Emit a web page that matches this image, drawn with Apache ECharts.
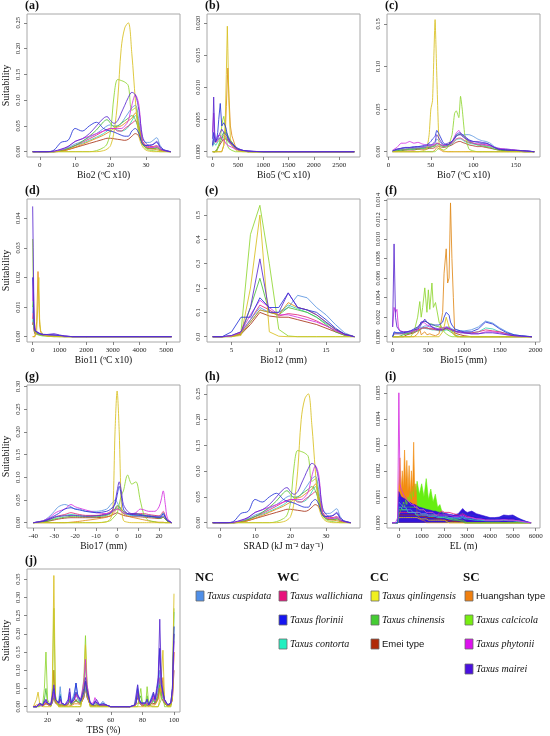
<!DOCTYPE html>
<html>
<head>
<meta charset="utf-8">
<script src="https://cdn.jsdelivr.net/npm/echarts/dist/echarts.min.js"></script>
<style>html,body{margin:0;padding:0;background:#fff}#c{width:550px;height:736px}</style>
</head>
<body>
<div id="c"></div>
<script>
// ---------- species ----------
const speciesKeys = ['cusp','wall','flor','cont','qinl','chin','emei','huang','calc','phyt','mair'];
const speciesNames = ['Taxus cuspidata','Taxus wallichiana','Taxus florinii','Taxus contorta','Taxus qinlingensis','Taxus chinensis','Emei type','Huangshan type','Taxus calcicola','Taxus phytonii','Taxus mairei'];
const swatchColors = ['#4f8fe8','#e8127c','#1515f0','#22f0c0','#f0f020','#44cc33','#b02a08','#f08010','#77ee11','#dd11ee','#4a10e0'];
const lineColors = ['#5b95e0','#e0287a','#2434d8','#37d6b0','#d8c020','#4cbf3a','#a83218','#e08a1a','#8fd631','#d530e0','#5a2ad0'];

// ---------- (a) Bio2 / (h) SRAD ----------
const a_x = [-2,0,2,4,6,8,10,12,14,16,18,19,20,21,22,23,24,25,26,27,28,29,30,31,32,33,34,35,37];
const a_qinl = [0,0,0,0,0,0,0,0,0,0,0.002,0.005,0.012,0.04,0.1,0.2,0.24,0.25,0.19,0.1,0.03,0.01,0.003,0.001,0,0,0,0,0];
const a_calc = [0,0,0,0,0,0,0,0,0,0.002,0.008,0.015,0.04,0.11,0.14,0.138,0.135,0.128,0.08,0.085,0.045,0.015,0.006,0.003,0.002,0.001,0,0,0];
const a_chin = [0,0,0,0,0.002,0.006,0.012,0.02,0.03,0.042,0.058,0.062,0.055,0.048,0.05,0.055,0.06,0.065,0.07,0.062,0.04,0.015,0.008,0.006,0.006,0.006,0.003,0.001,0];
const a_flor = [0,0,0,0.003,0.018,0.022,0.045,0.04,0.05,0.057,0.045,0.042,0.04,0.038,0.035,0.032,0.03,0.03,0.04,0.045,0.035,0.015,0.012,0.012,0.014,0.018,0.008,0.003,0];
const a_mair = [0,0,0,0.001,0.005,0.01,0.02,0.025,0.035,0.05,0.065,0.068,0.06,0.055,0.06,0.075,0.09,0.105,0.115,0.11,0.08,0.03,0.016,0.013,0.014,0.02,0.01,0.004,0];
const a_phyt = [0,0,0,0.001,0.004,0.01,0.02,0.025,0.03,0.035,0.04,0.042,0.045,0.045,0.045,0.045,0.05,0.06,0.09,0.11,0.09,0.02,0.01,0.008,0.008,0.01,0.005,0.002,0];
const a_cusp = [0,0,0,0,0.003,0.008,0.015,0.02,0.028,0.035,0.045,0.05,0.052,0.05,0.05,0.055,0.065,0.075,0.085,0.09,0.06,0.025,0.018,0.018,0.022,0.027,0.012,0.004,0];
const a_wall = [0,0,0,0,0.002,0.006,0.012,0.018,0.025,0.032,0.04,0.043,0.045,0.045,0.04,0.04,0.045,0.05,0.055,0.06,0.045,0.02,0.012,0.01,0.01,0.012,0.006,0.002,0];
const a_cont = [0,0,0,0,0.002,0.006,0.012,0.016,0.022,0.028,0.035,0.04,0.045,0.045,0.042,0.04,0.042,0.048,0.06,0.07,0.05,0.02,0.01,0.008,0.008,0.01,0.005,0.002,0];
const a_emei = [0,0,0,0,0.001,0.004,0.008,0.012,0.016,0.02,0.024,0.026,0.026,0.025,0.024,0.023,0.022,0.024,0.03,0.035,0.03,0.015,0.008,0.006,0.006,0.008,0.004,0.001,0];
const a_huang = [0,0,0,0,0.001,0.004,0.009,0.014,0.02,0.026,0.032,0.036,0.04,0.045,0.048,0.05,0.055,0.06,0.065,0.075,0.05,0.02,0.01,0.006,0.005,0.004,0.002,0.001,0];

// ---------- (b) Bio5 ----------
const b_x = [0,20,40,60,80,100,120,150,180,200,220,250,270,290,300,320,350,380,400,450,500,600,700,800,1000,1500,2000,2500,2800];
const b_qinl = [0,0,0,0,0,0,0,0,0,0,0.001,0.005,0.012,0.0195,0.016,0.008,0.002,0.001,0.0008,0.0003,0.0001,0,0,0,0,0,0,0,0];
const b_huang = [0,0,0,0,0,0,0,0,0,0.0003,0.001,0.003,0.007,0.011,0.013,0.009,0.004,0.0025,0.002,0.0008,0.0004,0.0001,0,0,0,0,0,0,0];
const b_mair = [0.002,0.0085,0.003,0.0018,0.0015,0.002,0.0025,0.003,0.0035,0.0038,0.003,0.0028,0.0026,0.0025,0.0025,0.002,0.0015,0.0012,0.0012,0.0008,0.0005,0.0002,0.0001,0.00005,0,0,0,0,0];
const b_flor = [0.001,0.003,0.002,0.0015,0.002,0.003,0.005,0.0075,0.004,0.004,0.0045,0.004,0.0035,0.0025,0.002,0.0018,0.0015,0.0012,0.001,0.0007,0.0004,0.0002,0.0001,0.00005,0,0,0,0,0];
const b_calc = [0,0,0,0,0,0.0005,0.001,0.002,0.004,0.005,0.0055,0.004,0.002,0.001,0.0008,0.0005,0.0003,0.0002,0.0001,0,0,0,0,0,0,0,0,0,0];
const b_phyt = [0.003,0.006,0.002,0.0015,0.002,0.0025,0.0025,0.0025,0.002,0.002,0.0018,0.0015,0.0012,0.001,0.001,0.0009,0.0008,0.0007,0.0006,0.0004,0.0003,0.0002,0.0001,0.00005,0.00002,0,0,0,0];
const b_cusp = [0.001,0.002,0.0015,0.0015,0.0018,0.002,0.002,0.0022,0.0025,0.0028,0.003,0.0032,0.003,0.0028,0.0025,0.0022,0.0018,0.0015,0.0012,0.0008,0.0005,0.0002,0.0001,0.00005,0,0,0,0,0];
const b_wall = [0.001,0.002,0.0015,0.0012,0.0015,0.0018,0.002,0.002,0.0022,0.0025,0.0025,0.0024,0.0022,0.002,0.0018,0.0016,0.0013,0.001,0.0008,0.0005,0.0003,0.0001,0.00005,0,0,0,0,0,0];
const b_cont = [0.0008,0.0015,0.0012,0.001,0.0012,0.0015,0.0018,0.002,0.002,0.0022,0.0022,0.002,0.0019,0.0018,0.0016,0.0014,0.0012,0.001,0.0008,0.0005,0.0003,0.0001,0.00005,0,0,0,0,0,0];
const b_chin = [0,0,0,0,0.0003,0.0006,0.001,0.0015,0.002,0.0025,0.003,0.0032,0.003,0.0028,0.0025,0.002,0.0018,0.0015,0.0012,0.0006,0.0003,0.0001,0,0,0,0,0,0,0];
const b_emei = [0,0,0,0,0.0002,0.0004,0.0008,0.0012,0.0015,0.0018,0.002,0.002,0.0019,0.0018,0.0017,0.0015,0.0014,0.0013,0.0012,0.0007,0.0003,0.0001,0,0,0,0,0,0,0];

// ---------- (c) Bio7 ----------
const c_x = [5,10,15,20,25,30,35,40,45,48,50,52,55,57,60,65,70,75,78,80,83,85,87,90,95,100,105,110,115,120,125,130,140,150,160,172];
const c_qinl = [0,0,0,0,0,0,0,0.001,0.003,0.02,0.05,0.06,0.155,0.09,0.005,0.001,0,0,0,0,0,0,0,0,0,0,0,0,0,0,0,0,0,0,0,0];
const c_calc = [0,0,0,0,0,0,0,0,0,0,0,0,0,0.002,0.004,0.002,0.005,0.02,0.045,0.048,0.04,0.065,0.05,0.02,0.003,0.001,0,0,0,0,0,0,0,0,0,0];
const c_huang = [0,0,0,0,0,0,0,0,0,0,0,0,0.002,0.005,0.003,0,0,0,0,0,0,0,0,0,0,0,0,0,0,0,0,0,0,0,0,0];
const c_mair = [0.001,0.003,0.004,0.005,0.005,0.005,0.006,0.006,0.007,0.008,0.008,0.009,0.012,0.02,0.015,0.008,0.01,0.012,0.015,0.018,0.02,0.02,0.018,0.016,0.013,0.012,0.012,0.011,0.01,0.008,0.005,0.003,0.002,0.0015,0.001,0];
const c_flor = [0.001,0.003,0.004,0.005,0.005,0.006,0.006,0.007,0.008,0.01,0.012,0.015,0.018,0.025,0.02,0.01,0.008,0.012,0.016,0.02,0.022,0.022,0.02,0.018,0.014,0.012,0.011,0.01,0.01,0.008,0.005,0.003,0.002,0.0015,0.001,0];
const c_phyt = [0.002,0.005,0.01,0.01,0.012,0.01,0.011,0.009,0.008,0.008,0.008,0.008,0.009,0.01,0.009,0.007,0.008,0.012,0.018,0.022,0.025,0.022,0.02,0.017,0.013,0.01,0.009,0.008,0.008,0.007,0.005,0.004,0.003,0.002,0.001,0];
const c_cusp = [0.001,0.002,0.003,0.004,0.004,0.004,0.005,0.005,0.006,0.007,0.007,0.008,0.01,0.015,0.012,0.008,0.008,0.012,0.016,0.018,0.02,0.02,0.02,0.02,0.02,0.018,0.015,0.013,0.012,0.01,0.006,0.004,0.003,0.002,0.001,0];
const c_wall = [0.001,0.002,0.003,0.003,0.004,0.004,0.004,0.005,0.005,0.006,0.006,0.007,0.008,0.01,0.009,0.007,0.008,0.01,0.013,0.015,0.016,0.016,0.015,0.013,0.011,0.01,0.009,0.009,0.008,0.007,0.005,0.003,0.002,0.0015,0.001,0];
const c_cont = [0.001,0.002,0.002,0.003,0.003,0.003,0.004,0.004,0.005,0.005,0.006,0.006,0.007,0.009,0.008,0.006,0.007,0.009,0.012,0.014,0.015,0.015,0.014,0.012,0.01,0.009,0.008,0.008,0.007,0.006,0.004,0.003,0.002,0.001,0.001,0];
const c_chin = [0,0.001,0.002,0.002,0.003,0.003,0.003,0.004,0.004,0.005,0.005,0.006,0.007,0.01,0.009,0.006,0.008,0.012,0.016,0.019,0.02,0.021,0.019,0.016,0.012,0.01,0.008,0.007,0.006,0.005,0.003,0.002,0.001,0.001,0,0];
const c_emei = [0,0.001,0.001,0.002,0.002,0.002,0.003,0.003,0.003,0.004,0.004,0.004,0.005,0.007,0.006,0.005,0.006,0.008,0.01,0.011,0.012,0.012,0.011,0.01,0.008,0.007,0.006,0.006,0.005,0.004,0.003,0.002,0.001,0.001,0,0];

// ---------- (d) Bio11 ----------
const d_x = [0,20,50,80,100,150,200,230,260,300,400,600,800,1000,1200,1500,2000,3000,4000,5200];
const d_mair = [0.044,0.03,0.006,0.003,0.002,0.0015,0.0015,0.0012,0.001,0.0008,0.0006,0.0008,0.001,0.0006,0.0002,0,0,0,0,0];
const d_calc = [0.033,0.018,0.004,0.0015,0.001,0.0008,0.0006,0.0005,0.0004,0.0003,0.0002,0.0001,0,0,0,0,0,0,0,0];
const d_huang = [0,0,0,0,0.001,0.005,0.022,0.012,0.004,0.0015,0.0005,0.0002,0.0001,0,0,0,0,0,0,0];
const d_qinl = [0,0,0,0,0,0.002,0.012,0.02,0.006,0.002,0.0005,0.0001,0,0,0,0,0,0,0,0];
const d_phyt = [0.012,0.02,0.008,0.003,0.002,0.0015,0.0012,0.001,0.001,0.0009,0.0007,0.0006,0.0006,0.0004,0.0002,0,0,0,0,0];
const d_flor = [0.02,0.015,0.005,0.002,0.0018,0.0015,0.0013,0.0012,0.0011,0.001,0.0008,0.0007,0.0006,0.0004,0.0002,0,0,0,0,0];
const d_cusp = [0.008,0.01,0.004,0.002,0.0015,0.0012,0.001,0.001,0.0009,0.0008,0.0007,0.0006,0.0005,0.0003,0.0001,0,0,0,0,0];
const d_wall = [0.006,0.008,0.003,0.0015,0.0012,0.001,0.0009,0.0008,0.0008,0.0007,0.0006,0.0005,0.0004,0.0002,0.0001,0,0,0,0,0];
const d_cont = [0.005,0.006,0.003,0.0015,0.0012,0.001,0.0009,0.0008,0.0007,0.0006,0.0005,0.0004,0.0003,0.0002,0.0001,0,0,0,0,0];
const d_chin = [0.01,0.012,0.004,0.002,0.0015,0.0012,0.001,0.0009,0.0008,0.0007,0.0005,0.0003,0.0002,0.0001,0,0,0,0,0,0];
const d_emei = [0.004,0.005,0.002,0.001,0.001,0.0009,0.0008,0.0008,0.0007,0.0006,0.0005,0.0003,0.0002,0.0001,0,0,0,0,0,0];

// ---------- (e) Bio12 ----------
const e_x = [3,4,5,6,7,8,9,10,11,12,13,14,15,16,17,18];
const e_calc = [0,0,0.002,0.02,0.42,0.54,0.3,0.03,0.003,0,0,0,0,0,0,0];
const e_qinl = [0,0,0,0.005,0.2,0.5,0.02,0.002,0,0,0,0,0,0,0,0];
const e_chin = [0,0,0,0.01,0.12,0.24,0.1,0.09,0.12,0.11,0.1,0.08,0.05,0.02,0.005,0];
const e_mair = [0,0,0.005,0.02,0.12,0.32,0.1,0.1,0.18,0.12,0.11,0.09,0.06,0.03,0.01,0];
const e_flor = [0,0,0.02,0.08,0.08,0.16,0.12,0.12,0.18,0.12,0.11,0.1,0.07,0.035,0.01,0];
const e_cusp = [0,0,0.005,0.02,0.07,0.12,0.1,0.1,0.12,0.17,0.16,0.12,0.09,0.05,0.015,0];
const e_phyt = [0,0,0.003,0.02,0.09,0.15,0.12,0.09,0.09,0.08,0.07,0.06,0.045,0.025,0.008,0];
const e_wall = [0,0,0.003,0.015,0.07,0.13,0.11,0.085,0.095,0.09,0.08,0.065,0.045,0.025,0.008,0];
const e_cont = [0,0,0.002,0.01,0.06,0.11,0.1,0.1,0.13,0.115,0.1,0.08,0.055,0.03,0.01,0];
const e_emei = [0,0,0.002,0.01,0.05,0.1,0.085,0.08,0.08,0.07,0.06,0.05,0.035,0.02,0.006,0];
const e_huang = [0,0,0.002,0.01,0.06,0.11,0.1,0.09,0.14,0.12,0.11,0.09,0.06,0.03,0.01,0];

// ---------- (f) Bio15 ----------
const f_x = [0,20,40,60,80,100,150,200,250,300,350,380,400,420,450,480,500,520,550,570,600,650,700,720,750,770,790,810,830,850,870,900,950,1000,1100,1200,1300,1400,1500,1600,1700,1800,1950];
const f_mair = [0.001,0.0095,0.002,0.001,0.0008,0.0006,0.0005,0.0005,0.0006,0.0007,0.0008,0.001,0.0012,0.0015,0.0018,0.0015,0.0014,0.0012,0.001,0.0009,0.0008,0.0007,0.0007,0.0008,0.0009,0.001,0.0009,0.0008,0.0007,0.0006,0.0006,0.0005,0.0005,0.0004,0.0003,0.0003,0.0004,0.0004,0.0003,0.0002,0.0001,0.00005,0];
const f_phyt = [0.001,0.003,0.0025,0.0028,0.001,0.0006,0.0005,0.0005,0.0005,0.0006,0.0008,0.0012,0.0015,0.0016,0.0014,0.0012,0.0012,0.0011,0.001,0.0009,0.0008,0.0008,0.0009,0.001,0.001,0.0009,0.0008,0.0008,0.0007,0.0006,0.0006,0.0005,0.0004,0.0004,0.0003,0.0003,0.0005,0.0005,0.0004,0.0002,0.0001,0.00005,0];
const f_calc = [0,0,0,0,0,0,0,0,0,0.0005,0.002,0.0036,0.002,0.003,0.005,0.0025,0.0048,0.0028,0.0055,0.003,0.0035,0.0015,0.0008,0.0005,0.0003,0.0002,0.0001,0.0001,0,0,0,0,0,0,0,0,0,0,0,0,0,0,0];
const f_huang = [0,0,0,0,0,0,0,0,0,0,0.0003,0.0008,0.0002,0,0.0005,0.0002,0,0.0003,0.0002,0,0.0001,0.0003,0.0025,0.0065,0.009,0.0055,0.006,0.0137,0.008,0.004,0.0002,0,0,0,0,0,0,0,0,0,0,0,0];
const f_flor = [0,0.0005,0.0005,0.0004,0.0004,0.0004,0.0004,0.0005,0.0006,0.0008,0.001,0.0012,0.0015,0.0016,0.0016,0.0015,0.0014,0.0013,0.0012,0.0012,0.0012,0.0012,0.0015,0.002,0.0025,0.0027,0.0022,0.0015,0.0012,0.001,0.0008,0.0007,0.0006,0.0005,0.0005,0.0008,0.0015,0.0013,0.0008,0.0004,0.0002,0.0001,0];
const f_cusp = [0,0.0004,0.0004,0.0004,0.0004,0.0004,0.0004,0.0004,0.0005,0.0006,0.0008,0.0009,0.001,0.001,0.0011,0.0011,0.001,0.001,0.001,0.0009,0.0009,0.0008,0.0008,0.0009,0.001,0.001,0.001,0.0009,0.0008,0.0008,0.0007,0.0007,0.0006,0.0006,0.0007,0.001,0.0016,0.0014,0.0009,0.0005,0.0002,0.0001,0];
const f_wall = [0,0.0003,0.0003,0.0003,0.0003,0.0003,0.0003,0.0004,0.0004,0.0005,0.0007,0.0008,0.0009,0.0009,0.0009,0.0009,0.0008,0.0008,0.0008,0.0008,0.0007,0.0007,0.0007,0.0008,0.0008,0.0008,0.0008,0.0007,0.0007,0.0006,0.0006,0.0005,0.0005,0.0004,0.0004,0.0005,0.0007,0.0006,0.0005,0.0003,0.0001,0.00005,0];
const f_cont = [0,0.0003,0.0003,0.0003,0.0003,0.0003,0.0003,0.0003,0.0004,0.0005,0.0006,0.0007,0.0008,0.0009,0.0009,0.0008,0.0008,0.0008,0.0007,0.0007,0.0007,0.0006,0.0006,0.0007,0.0007,0.0007,0.0007,0.0006,0.0006,0.0006,0.0005,0.0005,0.0004,0.0004,0.0004,0.0005,0.0009,0.0008,0.0005,0.0003,0.0001,0.00005,0];
const f_chin = [0,0,0,0,0,0.0001,0.0002,0.0003,0.0004,0.0006,0.001,0.0012,0.0014,0.0015,0.0016,0.0015,0.0014,0.0013,0.0013,0.0012,0.0011,0.001,0.0009,0.0008,0.0008,0.0007,0.0006,0.0005,0.0004,0.0003,0.0002,0.0001,0,0,0,0,0,0,0,0,0,0,0];
const f_emei = [0,0,0,0,0,0,0,0.0002,0.0003,0.0004,0.0006,0.0007,0.0008,0.0009,0.0009,0.0009,0.0009,0.0008,0.0008,0.0008,0.0008,0.0007,0.0007,0.0008,0.0009,0.0009,0.0008,0.0007,0.0006,0.0005,0.0004,0.0003,0.0002,0.0001,0,0,0,0,0,0,0,0,0];
const f_qinl = [0,0,0,0,0,0,0,0,0,0,0,0,0,0,0,0,0,0,0,0,0,0,0.0005,0.001,0.002,0.0015,0.001,0.0008,0.0005,0.0003,0.0001,0,0,0,0,0,0,0,0,0,0,0,0];

// ---------- (g) Bio17 ----------
const g_x = [-40,-35,-32,-30,-28,-25,-22,-20,-18,-15,-10,-5,-3,-2,-1,0,1,2,3,5,7,9,11,13,15,18,20,21,22,23,24,26];
const g_qinl = [0,0,0,0,0,0,0,0,0,0,0,0.002,0.01,0.03,0.2,0.29,0.2,0.04,0.005,0.001,0,0,0,0,0,0,0,0,0,0,0,0];
const g_calc = [0,0,0,0,0,0,0,0,0,0,0,0.002,0.005,0.01,0.015,0.02,0.04,0.06,0.07,0.105,0.085,0.09,0.05,0.015,0.005,0.002,0,0,0,0,0,0];
const g_mair = [0,0.003,0.008,0.012,0.014,0.015,0.016,0.016,0.015,0.014,0.015,0.018,0.022,0.03,0.045,0.07,0.09,0.07,0.04,0.025,0.02,0.02,0.018,0.016,0.015,0.013,0.012,0.012,0.015,0.01,0.005,0];
const g_phyt = [0,0.005,0.012,0.02,0.025,0.03,0.04,0.035,0.032,0.028,0.022,0.02,0.022,0.025,0.028,0.03,0.028,0.025,0.022,0.02,0.02,0.022,0.03,0.028,0.025,0.025,0.035,0.05,0.07,0.04,0.01,0];
const g_cusp = [0,0.005,0.015,0.025,0.035,0.04,0.035,0.03,0.03,0.025,0.025,0.03,0.04,0.045,0.05,0.045,0.035,0.025,0.02,0.018,0.016,0.015,0.015,0.014,0.013,0.012,0.012,0.015,0.02,0.012,0.005,0];
const g_flor = [0,0.004,0.01,0.015,0.02,0.03,0.033,0.03,0.028,0.025,0.022,0.025,0.03,0.035,0.04,0.06,0.08,0.06,0.03,0.02,0.018,0.017,0.016,0.015,0.014,0.013,0.012,0.013,0.02,0.012,0.005,0];
const g_wall = [0,0.003,0.008,0.012,0.015,0.018,0.022,0.02,0.018,0.016,0.016,0.02,0.025,0.028,0.03,0.035,0.035,0.03,0.025,0.02,0.018,0.018,0.02,0.02,0.018,0.016,0.015,0.018,0.025,0.015,0.005,0];
const g_cont = [0,0.003,0.007,0.01,0.013,0.016,0.018,0.017,0.016,0.015,0.015,0.018,0.022,0.025,0.028,0.032,0.03,0.026,0.022,0.018,0.016,0.016,0.017,0.017,0.016,0.015,0.014,0.016,0.022,0.013,0.005,0];
const g_chin = [0,0.002,0.005,0.008,0.01,0.012,0.014,0.014,0.013,0.013,0.013,0.016,0.02,0.025,0.03,0.038,0.035,0.03,0.025,0.02,0.02,0.02,0.018,0.016,0.014,0.012,0.01,0.01,0.012,0.008,0.003,0];
const g_emei = [0,0.002,0.004,0.006,0.008,0.01,0.011,0.011,0.011,0.011,0.011,0.013,0.015,0.018,0.02,0.022,0.02,0.018,0.016,0.014,0.013,0.013,0.013,0.012,0.011,0.01,0.009,0.01,0.012,0.008,0.003,0];
const g_huang = [0,0,0,0,0,0,0.001,0.002,0.003,0.005,0.008,0.012,0.016,0.02,0.025,0.03,0.03,0.025,0.02,0.015,0.012,0.01,0.008,0.006,0.004,0.002,0.001,0.001,0.001,0,0,0];

// ---------- (i) EL ----------
const i_x = [-300,-150,-50,0,50,100,150,200,250,300,350,400,450,500,550,600,650,700,750,800,900,1000,1100,1200,1300,1400,1500,1600,1700,1800,1900,2000,2200,2400,2600,2800,2900,3000,3200,3400,3600,3800,4000,4200,4400,4600,4800,5000,5200,5400,5600,5800];
const i_huang = [0,0,0,0.0015,0.0025,0.0012,0.002,0.0013,0.0028,0.0014,0.0024,0.0012,0.0022,0.0011,0.002,0.0012,0.0031,0.001,0.0015,0.0003,0.0002,0.0001,0.0001,0,0,0,0,0,0,0,0,0,0,0,0,0,0,0,0,0,0,0,0,0,0,0,0,0,0,0,0,0];
const i_calc = [0,0,0,0.0003,0.0004,0.0005,0.0006,0.0008,0.0006,0.0009,0.0007,0.001,0.0008,0.0012,0.0009,0.0014,0.001,0.0015,0.0012,0.0016,0.0011,0.0015,0.001,0.0017,0.0009,0.0013,0.0008,0.0011,0.0006,0.0007,0.0004,0.0003,0.0002,0.00015,0.0001,0.0001,0.00005,0,0,0,0,0,0,0,0,0,0,0,0,0,0,0];
const i_mair = [0,0,0,0.0012,0.0011,0.001,0.001,0.00095,0.0009,0.0009,0.00085,0.0008,0.0008,0.00078,0.00075,0.00072,0.0007,0.0007,0.00068,0.00065,0.0006,0.00058,0.00055,0.00052,0.0005,0.00048,0.00045,0.00045,0.00042,0.0004,0.0004,0.00038,0.00033,0.0003,0.00035,0.00055,0.00045,0.0004,0.00045,0.00035,0.0003,0.00025,0.0002,0.0002,0.00022,0.0003,0.00028,0.0003,0.0002,0.00012,0.00005,0];
const i_phyt = [0,0,0.0002,0.005,0.0015,0.0013,0.0012,0.0011,0.001,0.001,0.0009,0.0009,0.0008,0.0008,0.0007,0.0007,0.0007,0.0006,0.0006,0.0006,0.0005,0.0005,0.0005,0.0004,0.0004,0.0004,0.0004,0.0003,0.0003,0.0003,0.0003,0.0003,0.0003,0.00025,0.00025,0.0003,0.00025,0.0002,0.0002,0.00015,0.00015,0.0001,0.0001,0.0001,0.0001,0.00012,0.0001,0.0001,0.00008,0.00005,0.00002,0];
const i_wall = [0,0,0,0.0004,0.0004,0.0004,0.0004,0.0004,0.0004,0.0004,0.0004,0.0004,0.0004,0.0004,0.0004,0.0004,0.0004,0.0004,0.0004,0.0004,0.0004,0.0003,0.0003,0.0003,0.0003,0.0003,0.0003,0.0003,0.0003,0.0004,0.00045,0.0004,0.0004,0.00035,0.0003,0.00035,0.0003,0.00025,0.0002,0.00015,0.00012,0.0001,0.0001,0.0001,0.0001,0.0001,0.0001,0.0001,0.00008,0.00005,0.00002,0];
const i_flor = [0,0,0,0.001,0.0009,0.0008,0.0008,0.0007,0.0007,0.0007,0.0006,0.0006,0.0006,0.0006,0.0005,0.0005,0.0005,0.0005,0.0005,0.0005,0.00045,0.00045,0.0004,0.0004,0.0004,0.00035,0.00035,0.00035,0.0003,0.0003,0.0003,0.0003,0.00028,0.00025,0.00028,0.0004,0.00035,0.0003,0.0003,0.00025,0.0002,0.0002,0.00015,0.00015,0.00018,0.00025,0.00022,0.00025,0.00015,0.0001,0.00004,0];
const i_cusp = [0,0,0,0.0008,0.0008,0.0007,0.0007,0.0006,0.0006,0.0006,0.0005,0.0005,0.0005,0.0005,0.0005,0.0004,0.0004,0.0004,0.0004,0.0004,0.0004,0.00035,0.00035,0.00035,0.0003,0.0003,0.0003,0.0003,0.00025,0.00025,0.00025,0.00025,0.0002,0.0002,0.0002,0.00025,0.0002,0.0002,0.00018,0.00015,0.00012,0.0001,0.0001,0.0001,0.0001,0.00012,0.0001,0.0001,0.00008,0.00005,0.00002,0];
const i_emei = [0,0,0,0.0003,0.0003,0.0003,0.0003,0.0003,0.0003,0.0003,0.0003,0.0003,0.0003,0.0003,0.0003,0.0003,0.0003,0.0003,0.0003,0.0003,0.00025,0.00025,0.00025,0.0002,0.0002,0.0002,0.0002,0.00015,0.00015,0.00015,0.0001,0.0001,0.00008,0.00005,0.00003,0.00002,0,0,0,0,0,0,0,0,0,0,0,0,0,0,0,0];
const i_qinl = [0,0,0,0.0002,0.0002,0.0002,0.0002,0.0002,0.0002,0.0002,0.0002,0.0002,0.0002,0.0002,0.0002,0.0002,0.0002,0.0002,0.0002,0.0002,0.00015,0.00015,0.00015,0.00015,0.0001,0.0001,0.0001,0.0001,0.0001,0.0001,0.0001,0.0001,0,0,0,0,0,0,0,0,0,0,0,0,0,0,0,0,0,0,0,0];
const i_chin = [0,0,0,0.0005,0.0005,0.0005,0.0005,0.0005,0.0005,0.0005,0.0006,0.0006,0.0006,0.0006,0.0006,0.0006,0.0006,0.0006,0.0006,0.0006,0.0005,0.0005,0.0005,0.0004,0.0004,0.0004,0.0003,0.0003,0.0003,0.0002,0.0002,0.0002,0.00015,0.0001,0.0001,0.00005,0,0,0,0,0,0,0,0,0,0,0,0,0,0,0,0];
const i_cont = [0,0,0,0.0006,0.0006,0.0006,0.0005,0.0005,0.0005,0.0005,0.0005,0.0004,0.0004,0.0004,0.0004,0.0004,0.0004,0.0004,0.0003,0.0003,0.0003,0.0003,0.0003,0.0003,0.00025,0.00025,0.00025,0.00025,0.0002,0.0002,0.0002,0.0002,0.00015,0.00015,0.00015,0.0002,0.00015,0.00015,0.00012,0.0001,0.0001,0.00008,0.00008,0.00008,0.00008,0.0001,0.00008,0.00008,0.00005,0.00003,0.00001,0];

// ---------- (j) TBS ----------
const j_x = [11,13,14,15,17,18,19,20,22,23,24,25,27,28,29,31,33,34,35,37,38,39,41,43,44,45,47,49,50,51,53,55,57,58,60,65,70,71,72,75,76,77,78,79,80,82,83,84,86,87,88,89,90,91,92,93,94,96,98,99,100];
const j_qinl = [0,0.02,0.04,0.01,0,0,0,0,0,0.05,0.36,0.02,0,0,0,0,0,0,0,0,0,0,0,0.05,0.17,0.05,0,0,0,0,0,0,0,0,0,0,0,0,0,0,0,0,0,0,0,0,0,0,0,0,0,0,0,0.02,0.08,0.155,0.02,0,0,0.05,0.31];
const j_calc = [0,0,0,0,0.01,0.05,0.15,0.02,0,0.03,0.27,0.03,0,0,0,0,0,0,0,0,0,0,0,0.08,0.195,0.06,0,0,0,0,0,0,0,0,0,0,0,0,0,0,0,0,0,0.05,0.01,0,0.055,0.01,0,0,0,0,0,0,0.02,0.05,0,0,0,0.03,0.27];
const j_mair = [0,0,0.005,0.01,0.005,0.01,0.02,0.01,0.005,0.03,0.06,0.02,0.01,0.02,0.01,0.005,0.02,0.05,0.01,0.02,0.04,0.03,0.02,0.05,0.08,0.05,0.01,0.005,0.01,0.02,0.005,0.005,0.005,0,0,0,0,0.005,0,0.005,0.01,0.06,0.02,0.01,0.005,0.01,0.02,0.005,0.02,0.04,0.02,0.05,0.08,0.24,0.08,0.04,0.02,0.005,0.01,0.05,0.2];
const j_phyt = [0,0,0.003,0.005,0.003,0.01,0.02,0.01,0.005,0.02,0.04,0.02,0.01,0.015,0.01,0.005,0.01,0.03,0.01,0.02,0.03,0.025,0.02,0.07,0.13,0.06,0.01,0.01,0.025,0.015,0.005,0.005,0.005,0,0,0,0,0.003,0,0.003,0.01,0.04,0.015,0.01,0.005,0.01,0.015,0.005,0.015,0.03,0.015,0.04,0.07,0.16,0.06,0.03,0.015,0.005,0.01,0.04,0.18];
const j_cusp = [0,0,0.005,0.01,0.005,0.02,0.025,0.01,0.005,0.02,0.04,0.02,0.01,0.055,0.01,0.005,0.01,0.03,0.01,0.04,0.065,0.03,0.01,0.03,0.06,0.03,0.01,0.005,0.015,0.01,0.005,0.015,0.005,0,0,0,0,0.003,0,0.003,0.01,0.06,0.02,0.01,0.005,0.01,0.015,0.005,0.03,0.04,0.02,0.03,0.05,0.1,0.04,0.05,0.02,0.005,0.01,0.05,0.22];
const j_flor = [0,0,0.004,0.008,0.004,0.015,0.02,0.01,0.005,0.025,0.05,0.02,0.01,0.03,0.01,0.005,0.015,0.04,0.01,0.03,0.065,0.035,0.015,0.04,0.07,0.04,0.01,0.005,0.015,0.01,0.005,0.01,0.005,0,0,0,0,0.004,0,0.004,0.01,0.05,0.02,0.01,0.005,0.01,0.02,0.005,0.025,0.035,0.02,0.04,0.07,0.16,0.06,0.04,0.02,0.005,0.01,0.05,0.22];
const j_wall = [0,0,0.003,0.005,0.003,0.008,0.012,0.006,0.003,0.015,0.035,0.015,0.008,0.02,0.008,0.004,0.01,0.025,0.008,0.02,0.035,0.025,0.012,0.04,0.07,0.04,0.008,0.005,0.012,0.008,0.004,0.006,0.004,0,0,0,0,0.002,0,0.002,0.008,0.035,0.015,0.008,0.004,0.008,0.012,0.004,0.015,0.025,0.012,0.025,0.04,0.08,0.04,0.03,0.012,0.004,0.008,0.03,0.15];
const j_cont = [0,0,0.002,0.004,0.002,0.006,0.01,0.005,0.002,0.012,0.03,0.012,0.006,0.035,0.006,0.003,0.008,0.02,0.006,0.025,0.04,0.02,0.01,0.03,0.05,0.03,0.006,0.004,0.01,0.006,0.003,0.008,0.003,0,0,0,0,0.002,0,0.002,0.006,0.04,0.012,0.006,0.003,0.006,0.01,0.003,0.02,0.025,0.01,0.02,0.04,0.07,0.035,0.03,0.01,0.003,0.006,0.03,0.26];
const j_chin = [0,0,0.002,0.004,0.005,0.02,0.05,0.01,0.003,0.02,0.1,0.015,0.005,0.01,0.005,0.003,0.008,0.02,0.006,0.015,0.02,0.015,0.01,0.05,0.12,0.04,0.005,0.003,0.008,0.005,0.003,0.004,0.003,0,0,0,0,0.002,0,0.002,0.005,0.03,0.02,0.03,0.005,0.005,0.03,0.003,0.01,0.02,0.01,0.015,0.03,0.06,0.03,0.04,0.01,0.003,0.006,0.03,0.2];
const j_emei = [0,0,0.002,0.003,0.002,0.005,0.008,0.004,0.002,0.01,0.025,0.01,0.005,0.01,0.005,0.002,0.006,0.015,0.005,0.012,0.02,0.012,0.008,0.025,0.05,0.025,0.005,0.003,0.008,0.005,0.002,0.003,0.002,0,0,0,0,0.002,0,0.002,0.005,0.025,0.01,0.006,0.002,0.005,0.008,0.002,0.01,0.015,0.008,0.015,0.025,0.05,0.025,0.02,0.008,0.002,0.005,0.02,0.1];
const j_huang = [0,0.005,0.01,0.005,0.002,0.005,0.01,0.005,0.002,0.02,0.1,0.01,0.003,0.005,0.003,0.002,0.005,0.01,0.003,0.008,0.01,0.008,0.006,0.03,0.07,0.03,0.003,0.002,0.005,0.003,0.002,0.002,0.002,0,0,0,0,0.001,0,0.001,0.003,0.01,0.005,0.01,0.002,0.003,0.01,0.002,0.005,0.01,0.005,0.01,0.02,0.05,0.04,0.08,0.01,0.002,0.005,0.02,0.15];

// ---------- tick labels / axis titles ----------
const xTitles = ['Bio2 (ºC x10)','Bio5 (ºC x10)','Bio7 (ºC x10)','Bio11 (ºC x10)','Bio12 (mm)','Bio15 (mm)','Bio17 (mm)','SRAD (kJ m⁻² day⁻¹)','EL (m)','TBS (%)'];
const panelLetters = ['(a)','(b)','(c)','(d)','(e)','(f)','(g)','(h)','(i)','(j)'];
const xTicks = [[0,10,20,30],[0,500,1000,1500,2000,2500],[0,50,100,150],[0,1000,2000,3000,4000,5000],[5,10,15],[0,500,1000,1500,2000],[-40,-30,-20,-10,0,10,20],[0,10,20,30],[0,1000,2000,3000,4000,5000,6000],[20,40,60,80,100]];
const yTicks = [[0,0.05,0.1,0.15,0.2,0.25],[0,0.005,0.01,0.015,0.02],[0,0.05,0.1,0.15],[0,0.01,0.02,0.03,0.04],[0,0.1,0.2,0.3,0.4,0.5],[0,0.002,0.004,0.006,0.008,0.01,0.012,0.014],[0,0.05,0.1,0.15,0.2,0.25,0.3],[0,0.05,0.1,0.15,0.2,0.25],[0,0.001,0.002,0.003,0.004,0.005],[0,0.05,0.1,0.15,0.2,0.25,0.3,0.35]];
const yDecimals = [2,3,2,2,1,3,2,2,3,2];

// ---------- panel data tables ----------
const panelX = [a_x,b_x,c_x,d_x,e_x,f_x,g_x,a_x,i_x,j_x];
const panelY = [
 {cusp:a_cusp,wall:a_wall,flor:a_flor,cont:a_cont,qinl:a_qinl,chin:a_chin,emei:a_emei,huang:a_huang,calc:a_calc,phyt:a_phyt,mair:a_mair},
 {cusp:b_cusp,wall:b_wall,flor:b_flor,cont:b_cont,qinl:b_qinl,chin:b_chin,emei:b_emei,huang:b_huang,calc:b_calc,phyt:b_phyt,mair:b_mair},
 {cusp:c_cusp,wall:c_wall,flor:c_flor,cont:c_cont,qinl:c_qinl,chin:c_chin,emei:c_emei,huang:c_huang,calc:c_calc,phyt:c_phyt,mair:c_mair},
 {cusp:d_cusp,wall:d_wall,flor:d_flor,cont:d_cont,qinl:d_qinl,chin:d_chin,emei:d_emei,huang:d_huang,calc:d_calc,phyt:d_phyt,mair:d_mair},
 {cusp:e_cusp,wall:e_wall,flor:e_flor,cont:e_cont,qinl:e_qinl,chin:e_chin,emei:e_emei,huang:e_huang,calc:e_calc,phyt:e_phyt,mair:e_mair},
 {cusp:f_cusp,wall:f_wall,flor:f_flor,cont:f_cont,qinl:f_qinl,chin:f_chin,emei:f_emei,huang:f_huang,calc:f_calc,phyt:f_phyt,mair:f_mair},
 {cusp:g_cusp,wall:g_wall,flor:g_flor,cont:g_cont,qinl:g_qinl,chin:g_chin,emei:g_emei,huang:g_huang,calc:g_calc,phyt:g_phyt,mair:g_mair},
 {cusp:a_cusp,wall:a_wall,flor:a_flor,cont:a_cont,qinl:a_qinl,chin:a_chin,emei:a_emei,huang:a_huang,calc:a_calc,phyt:a_phyt,mair:a_mair},
 {cusp:i_cusp,wall:i_wall,flor:i_flor,cont:i_cont,qinl:i_qinl,chin:i_chin,emei:i_emei,huang:i_huang,calc:i_calc,phyt:i_phyt,mair:i_mair},
 {cusp:j_cusp,wall:j_wall,flor:j_flor,cont:j_cont,qinl:j_qinl,chin:j_chin,emei:j_emei,huang:j_huang,calc:j_calc,phyt:j_phyt,mair:j_mair}
];

// ---------- layout (positions / styles) ----------
const colLeft = [27,207,387], rowTop = [14,199,385,569];
const GW = 153, GH = 143;
const xRange = [[-3.6,39.6],[-112,2912],[-1.7,178.7],[-212,5512],[2.4,18.6],[-79,2063],[-43,30],[-3.6,39.6],[-520,6190],[7,103.8]];
const yRange = [[-0.0103,0.267],[-0.00082,0.0214],[-0.0062,0.1616],[-0.0018,0.0465],[-0.0218,0.566],[-0.00054,0.0141],[-0.0117,0.3032],[-0.0103,0.267],[-0.0002,0.0053],[-0.0145,0.3778]];
const smoothing = [0.35,false,0.15,false,false,false,0.3,0.35,false,false];
const drawOrder = ['emei','cont','wall','cusp','chin','huang','calc','qinl','phyt','flor','mair'];
const drawOrderI = ['calc','huang','mair','wall','emei','qinl','chin','cont','cusp','flor','phyt'];
const areaInI = {calc:'#66ee11',huang:'#f28c0f',mair:'#3414d8'};
const SERIF = "'Liberation Serif','Times New Roman',serif";

const grids=[], xAxes=[], yAxes=[], series=[], graphics=[];
for (let p=0;p<10;p++){
  const col = p<9 ? p%3 : 0, row = Math.floor(p/3);
  const L = colLeft[col], T = rowTop[row];
  grids.push({left:L, top:T, width:GW, height:GH, show:true, borderColor:'#a8a8a8', borderWidth:1, containLabel:false});
  xAxes.push({type:'value', gridIndex:p, min:xRange[p][0], max:xRange[p][1], position:'bottom',
    axisLine:{show:false, onZero:false}, splitLine:{show:false},
    axisTick:{show:true, length:3, lineStyle:{color:'#666',width:0.8}, customValues:xTicks[p]},
    axisLabel:{customValues:xTicks[p], fontSize:7, fontFamily:SERIF, color:'#222', margin:5,
      formatter:(v)=>String(Math.round(v))},
    name:xTitles[p], nameLocation:'middle', nameGap:13,
    nameTextStyle:{fontSize:9.5, fontFamily:SERIF, color:'#111'}});
  const dec = yDecimals[p];
  yAxes.push({type:'value', gridIndex:p, min:yRange[p][0], max:yRange[p][1], position:'left',
    axisLine:{show:false, onZero:false}, splitLine:{show:false},
    axisTick:{show:true, length:3, lineStyle:{color:'#666',width:0.8}, customValues:yTicks[p]},
    axisLabel:{customValues:yTicks[p], rotate:90, fontSize:6.5, fontFamily:SERIF, color:'#222', margin:5,
      formatter:(v)=>Number(v).toFixed(dec)},
    name: col===0 ? 'Suitability' : '', nameLocation:'middle', nameGap:16, nameRotate:90,
    nameTextStyle:{fontSize:10, fontFamily:SERIF, color:'#111'}});
  graphics.push({type:'text', left:L-2, top:T-14, style:{text:panelLetters[p], font:"bold 12px "+SERIF, fill:'#111'}});
  const xs = panelX[p], ys = panelY[p];
  const order = p===8 ? drawOrderI : drawOrder;
  order.forEach(k=>{
    const si = speciesKeys.indexOf(k);
    const yv = ys[k];
    const s = {type:'line', name:speciesNames[si], xAxisIndex:p, yAxisIndex:p, silent:true,
      data: xs.map((x,idx)=>[x,yv[idx]]), showSymbol:false, symbol:'none',
      smooth: smoothing[p], animation:false,
      lineStyle:{width:1, color:lineColors[si], opacity:0.85}};
    if (p===8 && areaInI[k]) {
      s.areaStyle = {color:areaInI[k], opacity:1};
      s.lineStyle = {width:0.6, color:areaInI[k]};
    }
    series.push(s);
  });
}

// ---------- legend (custom block) ----------
const legendHeaders = [['NC',195],['WC',277],['CC',370],['SC',463]];
const legendRows = [596,620,644,669];
const legendItems = [
  ['cusp',196,0],
  ['wall',279,0],['flor',279,1],['cont',279,2],
  ['qinl',371,0],['chin',371,1],['emei',371,2],
  ['huang',465,0],['calc',465,1],['phyt',465,2],['mair',465,3]
];
legendHeaders.forEach(h=>{
  graphics.push({type:'text', left:h[1], top:571, style:{text:h[0], font:"bold 13px "+SERIF, fill:'#111'}});
});
legendItems.forEach(it=>{
  const si = speciesKeys.indexOf(it[0]);
  const y = legendRows[it[2]];
  graphics.push({type:'rect', shape:{x:it[1], y:y-5, width:8, height:10},
    style:{fill:swatchColors[si], stroke:'#6a6a6a', lineWidth:0.8}});
  const plain = (it[0]==='emei' || it[0]==='huang');
  graphics.push({type:'text', x:it[1]+11, y:y, style:{text:speciesNames[si],
    font: plain ? "9.5px 'Liberation Sans',Arial,sans-serif" : "italic 10px "+SERIF,
    fill:'#111', textVerticalAlign:'middle', verticalAlign:'middle'}});
});

const chart = echarts.init(document.getElementById('c'), null, {renderer:'canvas', width:550, height:736});
chart.setOption({backgroundColor:'#ffffff', animation:false, grid:grids, xAxis:xAxes, yAxis:yAxes, series:series, graphic:graphics});
</script>
</body>
</html>
